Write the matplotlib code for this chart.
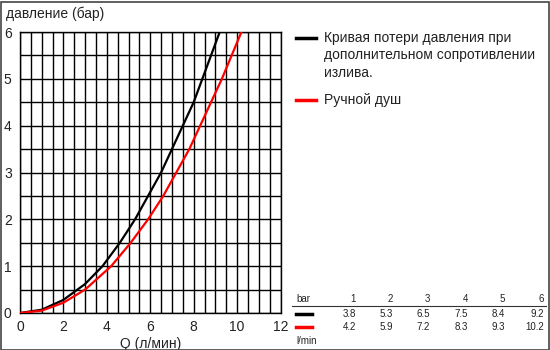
import numpy as np
import matplotlib
matplotlib.use("Agg")
import matplotlib.pyplot as plt
from matplotlib.patches import Rectangle
from matplotlib.lines import Line2D

plt.rcParams['font.family'] = ['Liberation Sans', 'DejaVu Sans']

# curves (Q in l/min, pressure in bar)
q_black = [0, 1, 2, 3, 3.8, 4.6, 5.3, 5.9, 6.5, 7.0, 7.5, 8.0, 8.4, 8.8, 9.2]
p_black = [0, 0.07, 0.28, 0.62, 1.0, 1.5, 2.0, 2.5, 3.0, 3.5, 4.0, 4.5, 5.0, 5.5, 6.0]
q_red = [0, 1, 2, 3, 4.2, 5.1, 5.9, 6.6, 7.2, 7.8, 8.3, 8.8, 9.3, 9.75, 10.2]
p_red = [0, 0.05, 0.22, 0.5, 1.0, 1.5, 2.0, 2.5, 3.0, 3.5, 4.0, 4.5, 5.0, 5.5, 6.0]

# table under the legend
bar_values = [1, 2, 3, 4, 5, 6]
tab_black = ["3.8", "5.3", "6.5", "7.5", "8.4", "9.2"]
tab_red = ["4.2", "5.9", "7.2", "8.3", "9.3", "10.2"]

legend_labels = ["Кривая потери давления при\nдополнительном сопротивлении\nизлива.", "Ручной душ"]

fig = plt.figure(figsize=(5.5, 3.5), dpi=100)
ax = fig.add_axes([20/550, 1 - 313/350, 260.5/550, 281/350])

ax.plot(q_black, p_black, color="black", lw=1.6, zorder=3)
ax.plot(q_red, p_red, color="#ff0000", lw=1.6, zorder=3)

ax.set_xlim(0, 12)
ax.set_ylim(0, 6)
ax.set_xticks(np.arange(0, 13, 2))
ax.set_xticks(np.arange(0, 12.1, 0.5), minor=True)
ax.set_yticks(np.arange(0, 7, 1))
ax.set_yticks(np.arange(0, 6.1, 0.5), minor=True)
ax.grid(True, which="both", color="black", lw=1)
ax.tick_params(which="both", length=0, labelsize=10, colors="#222222")
ax.tick_params(axis="x", pad=5)
ax.tick_params(axis="y", pad=6)
for s in ax.spines.values():
    s.set_linewidth(1)
ax.set_xlabel("Q (л/мин)", fontsize=10, labelpad=2, color="#222222")

fig.text(6/550, 1 - 14/350, "давление (бар)", fontsize=10, va="center", color="#222222")

# legend
colors = ["black", "#ff0000"]
for y, c, lab in zip([38, 100], colors, legend_labels):
    fig.add_artist(Line2D([296/550, 316/550], [1 - y/350] * 2, color=c, lw=2.5))
    fig.text(324/550, 1 - (y - 7)/350, lab, fontsize=10, va="top", linespacing=1.3,
             color="#222222")

# table
cols = [356, 393, 430, 468, 505, 544]
fig.text(296/550, 1 - 299/350, "bar", fontsize=7, va="center", color="#222222")
for x, b in zip(cols, bar_values):
    fig.text(x/550, 1 - 299/350, str(b), fontsize=7, va="center", ha="right", color="#222222")
fig.add_artist(Line2D([292/550, 546/550], [1 - 306/350] * 2, color="#333333", lw=0.8))
for y, c, vals in zip([314, 327], colors, [tab_black, tab_red]):
    fig.add_artist(Line2D([296/550, 312/550], [1 - y/350] * 2, color=c, lw=2.5))
    for x, v in zip(cols, vals):
        fig.text(x/550, 1 - y/350, v, fontsize=7, va="center", ha="right", color="#222222")
fig.text(296/550, 1 - 341/350, "l/min", fontsize=7, va="center", color="#222222")

# outer frame
fig.add_artist(Rectangle((0.5/550, 0.5/350), 548/550, 348/350, fill=False,
                         edgecolor="#444444", lw=1.2, transform=fig.transFigure))

fig.savefig("out.png", dpi=100)
